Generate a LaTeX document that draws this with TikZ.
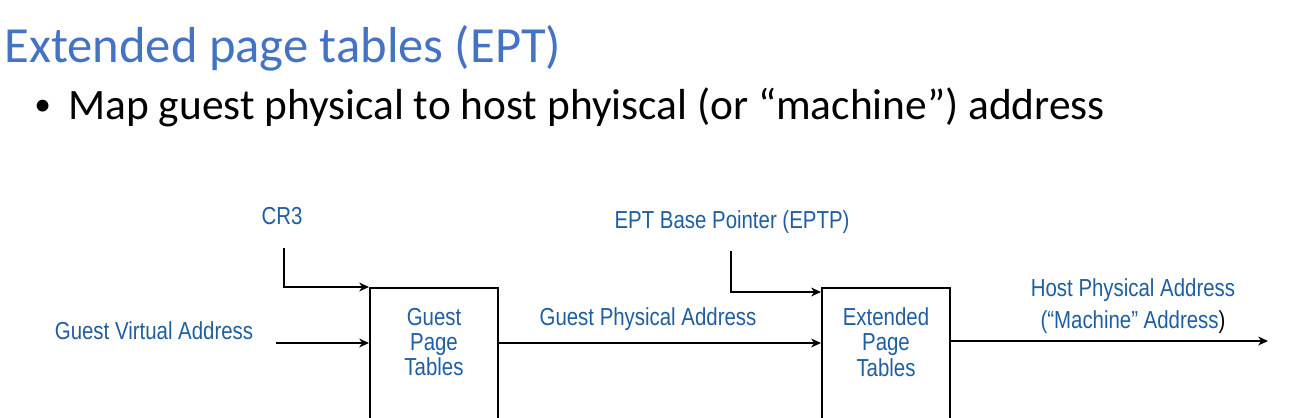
\documentclass[tikz,border=0pt]{standalone}
\usepackage{fontspec}
\setmainfont{Carlito}
\newfontfamily\diagfont[FakeStretch=0.83]{Liberation Sans}
\usetikzlibrary{arrows.meta,positioning}
\definecolor{titleblue}{RGB}{68,114,196}
\definecolor{labelblue}{RGB}{31,94,160}

\begin{document}
\begin{tikzpicture}[
x=0.02cm,y=-0.02cm,
lbl/.style={font=\diagfont\fontsize{14}{14.5}\selectfont,text=labelblue,inner sep=0pt,align=center},
pagebox/.style={draw,line width=1.2pt,anchor=north,minimum width=2.56cm,minimum height=3.4cm,inner sep=0pt},
feed/.style={-{Stealth[length=5.5pt,width=5pt,inset=1.6pt]},line width=0.85pt}]
    \useasboundingbox (0,0) rectangle (1292,417);

    % Heading
    \node[anchor=base west,inner sep=0pt,text=titleblue,font=\fontsize{28.8}{34}\selectfont]
        (title) at (4,62) {Extended page tables (EPT)};
    \node[anchor=base west,inner sep=0pt,font=\fontsize{19}{24}\selectfont]
        (dot) at (34,115) {•};
    \node[anchor=base west,inner sep=0pt,font=\fontsize{24.7}{29}\selectfont]
        (point) at (68,119) {Map guest physical to host phyiscal (or “machine”) address};

    % Tables
    \node[pagebox] (gpt) at (434,287) {};
    \node[lbl] (gpttext) at (434,342) {Guest\\Page\\Tables};
    \node[pagebox] (ept) at (886,287) {};
    \node[lbl] (epttext) at (886,342) {Extended\\Page\\Tables};

    % Labels
    \node[lbl] (cr3) at (282,216) {CR3};
    \node[lbl] (eptp) at (732,222) {EPT Base Pointer (EPTP)};
    \node[lbl] (gva) at (154,331) {Guest Virtual Address};
    \node[lbl] (gpa) at (648,319) {Guest Physical Address};
    \node[lbl,font=\diagfont\fontsize{14}{18.2}\selectfont] (hpa) at (1133,306)
        {Host Physical Address\\(“Machine” Address\textcolor{black}{)}};

    \coordinate (cr3in) at (284,248);
    \coordinate (eptpin) at (731,251);
    \coordinate (gvain) at (276,343);
    \coordinate (hpaout) at (1268,341);

    % Arrows
    \draw[feed] (cr3in) |- (gpt.north west);
    \draw[feed] (gvain) -- (gvain -| gpt.west);
    \draw[feed] (gpt.east |- gvain) -- (ept.west |- gvain);
    \draw[feed] (eptpin) |- ([yshift=-0.1cm]ept.north west);
    \draw[feed] (ept.east |- hpaout) -- (hpaout);
\end{tikzpicture}
\end{document}
